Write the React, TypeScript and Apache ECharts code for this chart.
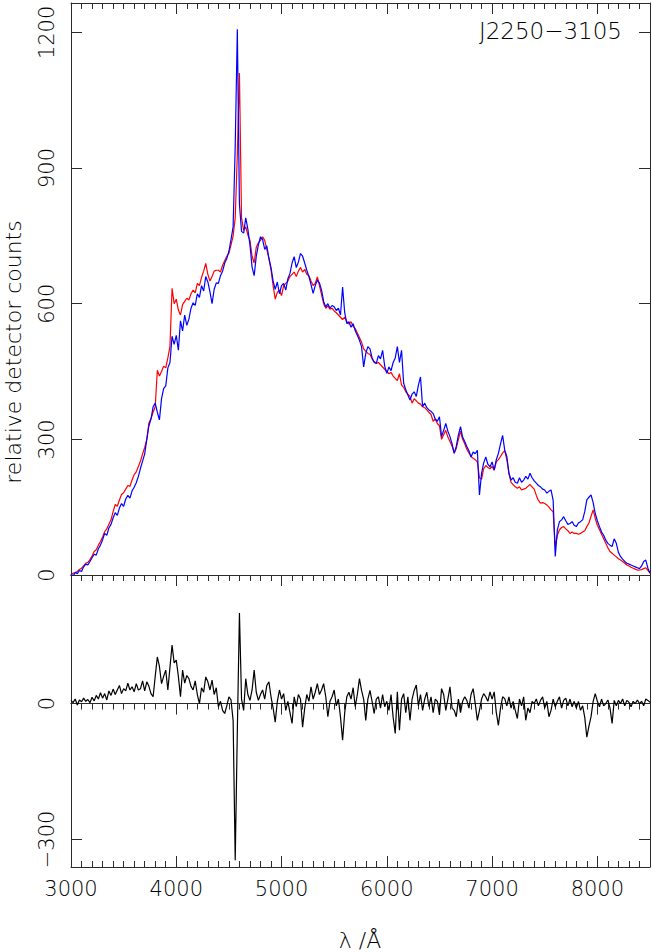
import React, { useEffect, useRef } from "react";
import * as echarts from "echarts";

// Wavelength sampling of the three spectra (Å)
const LAMBDA_START = 3000;
const LAMBDA_STEP = 20;

// Observed spectrum (blue), relative detector counts, 3000..8500 Å every 20 Å
const BLUE = [
  2, -3, 6, 3, 10, 8, 18, 24, 22, 30,
  38, 46, 44, 58, 66, 78, 92, 88, 104, 112,
  126, 138, 132, 148, 158, 152, 168, 176, 170, 186,
  194, 204, 218, 236, 252, 268, 300, 330, 345, 372,
  380, 360, 343, 390, 412, 418, 458, 470, 528, 510,
  530, 497, 562, 540, 575, 552, 566, 590, 602, 596,
  622, 614, 640, 628, 660, 648, 626, 600, 632, 646,
  645, 662, 672, 690, 700, 716, 742, 770, 950, 1207,
  820, 760, 756, 790, 765, 730, 681, 662, 705, 730,
  748, 742, 720, 728, 700, 680, 650, 632, 648, 622,
  640, 645, 630, 655, 667, 690, 704, 680, 692, 711,
  705, 690, 674, 660, 642, 623, 640, 652, 646, 630,
  605, 593, 600, 590, 596, 593, 585, 590, 575, 637,
  580, 556, 560, 548, 556, 540, 530, 519, 505, 460,
  490, 505, 500, 480, 470, 468, 485, 478, 497, 462,
  446, 460, 452, 470, 480, 505, 470, 497, 424, 410,
  398, 387, 400, 405, 395, 420, 438, 372, 380, 370,
  365, 362, 357, 345, 340, 350, 306, 320, 335, 318,
  306, 290, 269, 285, 310, 328, 305, 295, 284, 275,
  261, 272, 268, 276, 177, 225, 248, 261, 245, 239,
  250, 232, 255, 269, 290, 309, 276, 262, 225, 210,
  215, 205, 203, 215, 205, 210, 218, 212, 225, 215,
  208, 203, 198, 195, 190, 188, 181, 185, 188, 165,
  41, 100, 118, 122, 129, 120, 112, 114, 118, 110,
  107, 115, 118, 122, 140, 166, 172, 177, 160, 136,
  120, 107, 95, 88, 77, 70, 66, 63, 80, 70,
  50, 41, 35, 30, 26, 24, 22, 20, 18, 16,
  14, 20, 30, 33, 15, 4,
];

// Template / comparison spectrum (red)
const RED = [
  0, 4, 5, 8, 12, 15, 20, 26, 28, 34,
  42, 52, 56, 66, 74, 84, 96, 102, 112, 122,
  140, 156, 152, 166, 178, 182, 190, 198, 196, 210,
  222, 228, 240, 252, 268, 282, 300, 336, 346, 360,
  372, 453, 440, 450, 462, 458, 480, 505, 634, 600,
  610, 586, 575, 598, 605, 612, 608, 622, 630, 624,
  645, 640, 658, 672, 689, 665, 650, 660, 672, 674,
  674, 670, 685, 695, 705, 712, 730, 750, 790, 930,
  1110, 790, 762, 770, 752, 740, 705, 690, 725, 735,
  740, 748, 740, 720, 700, 675, 640, 610, 625, 630,
  618, 640, 645, 650, 660, 665, 670, 660, 672, 680,
  670, 676, 665, 662, 650, 640, 645, 659, 640, 620,
  600, 590, 595, 588, 590, 584, 580, 575, 570, 565,
  570, 560, 555, 560, 550, 545, 535, 525, 515, 500,
  495, 490, 488, 478, 472, 468, 470, 465, 460, 455,
  450, 445, 448, 440, 435, 430, 445, 420, 415, 405,
  400, 395, 380, 390, 385, 380, 378, 372, 370, 365,
  360, 355, 340, 345, 335, 330, 300, 310, 320, 305,
  295, 285, 270, 280, 300, 318, 300, 290, 278, 270,
  262, 258, 255, 250, 215, 212, 235, 242, 238, 235,
  240, 232, 250, 255, 262, 270, 275, 255, 225, 205,
  200, 195, 192, 195, 188, 190, 192, 196, 200, 195,
  190, 176, 165, 159, 160, 158, 155, 150, 144, 140,
  63, 88, 100, 105, 107, 102, 98, 92, 95, 92,
  92, 90, 92, 95, 98, 107, 115, 130, 144, 125,
  110, 100, 90, 80, 70, 60, 52, 48, 44, 40,
  36, 33, 30, 26, 22, 20, 17, 15, 13, 11,
  11, 12, 14, 16, 10, 4,
];

// Residual spectrum (black, lower panel)
const RESID = [
  7, 2, 10, -3, 8, 4, 12, 5, 9, 2,
  14, 6, 18, 10, 24, 12, 22, 8, 28, 18,
  32, 20, 30, 40, 22, 33, 28, 45, 30, 37,
  26, 44, 30, 33, 50, 28, 48, 38, 22, 15,
  60, 103, 82, 44, 60, 74, 30, 80, 129, 90,
  96, 60, 15, 74, 45, 62, 55, 38, 30, 50,
  20, 0, 35, 25, 59, 48, 30, 52, 20, 35,
  -7, 5, -15, -22, -5, 15, 8, -37, -346, -60,
  200, 10, -15, 55, 20, 7, 30, 74, 25, 7,
  20, 30, 10, 40, 48, 15, -10, -41, 5, 30,
  10, 22, -15, 5, -20, -44, 15, -7, 20, 10,
  -52, -10, 20, 5, 37, 10, 25, 44, 20, 30,
  44, 15, -29, 5, 15, 30, -5, 10, -30, -81,
  -20, 15, 25, 10, 35, -7, 20, 55, 29, 10,
  -37, 10, 29, 5, -22, 10, 15, -10, 20, -7,
  5, -15, 20, -30, -66, 26, -59, 10, 22, -20,
  15, -37, 10, 29, 41, -5, 20, -15, 10, 25,
  -7, 15, -20, 10, 5, -25, 33, 20, -15, 10,
  37, -10, -15, -29, 10, -20, 5, 15, 7, -10,
  20, 33, 0, -37, -15, 10, 22, 15, 5, 26,
  10, 26, -20, -48, -10, 15, 11, -5, 15, -10,
  5, -15, -33, 10, -5, 15, -37, -10, -20, 5,
  0, 10, -5, 7, 15, -10, 5, -29, -15, 10,
  -7, 5, 15, -10, 7, 12, -5, 10, -7, 5,
  -10, 5, -15, -5, -30, -74, -50, -29, 5, 22,
  5, -7, 10, -5, 0, 8, -10, -44, 7, -5,
  7, 0, 10, -5, 7, 3, -7, 5, 0, 8,
  0, 5, -5, 10, 7, 3,
];

const X_MIN = 3000;
const X_MAX = 8500;
const X_MAJOR = [3000, 4000, 5000, 6000, 7000, 8000];
const X_MINOR_STEP = 100;
const TOP_MIN = 0;
const TOP_MAX = 1265;
const TOP_TICKS = [0, 300, 600, 900, 1200];
const BOT_MIN = -361;
const BOT_MAX = 284;
const BOT_TICKS = [-300, 0];

const OBJECT_NAME = "J2250\u22123105";
const Y_NAME = "relative detector counts";
const X_NAME = "\u03bb /\u00c5";

const FONT = "'DejaVu Sans', sans-serif";
const FW = 200;
const AX = "#2b2b2b";
const TXT = "#000000";

function pairs(arr: number[]) {
  return arr.map((v, i) => [LAMBDA_START + i * LAMBDA_STEP, v]);
}

export default function App() {
  const ref = useRef<HTMLDivElement>(null);
  useEffect(() => {
    document.body.style.margin = "0";
    if (!ref.current) return;
    const chart = echarts.init(ref.current, undefined, { renderer: "svg" });

    const xMinor: number[] = [];
    for (let v = X_MIN; v <= X_MAX; v += X_MINOR_STEP) xMinor.push(v);

    const TOP_RECT = { left: 71, top: 3, width: 579, height: 572 };
    const BOT_RECT = { left: 71, top: 575, width: 579, height: 292 };

    const line = { show: true, onZero: false, lineStyle: { color: AX, width: 1 } };
    const noLine = { show: false, onZero: false };
    const minorTick = { show: true, inside: true, length: 6, customValues: xMinor, lineStyle: { color: AX, width: 1 } };
    const majorTick = { show: true, inside: true, length: 11, customValues: X_MAJOR, lineStyle: { color: AX, width: 1 } };

    const xBase = (gridIndex: number, position: string, axisLine: any, axisTick: any, axisLabel: any = { show: false }) => ({
      type: "value",
      gridIndex,
      position,
      min: X_MIN,
      max: X_MAX,
      splitLine: { show: false },
      axisLine,
      axisTick,
      axisLabel,
    });

    const yTick = (vals: number[]) => ({ show: true, inside: true, length: 11, customValues: vals, lineStyle: { color: AX, width: 1 } });
    const yLabel = (vals: number[]) => ({
      show: true,
      customValues: vals,
      rotate: 90,
      margin: 14,
      fontSize: 21,
      fontFamily: FONT,
      fontWeight: FW,
      color: TXT,
      formatter: (v: number) => String(v).replace("-", "\u2212"),
    });
    const yHidden = (gridIndex: number, min: number, max: number) => ({
      type: "value",
      gridIndex,
      min,
      max,
      show: false,
      splitLine: { show: false },
    });

    const option: any = {
      animation: false,
      grid: [TOP_RECT, TOP_RECT, BOT_RECT, BOT_RECT, BOT_RECT, BOT_RECT],
      xAxis: [
        xBase(0, "bottom", line, { show: false }),
        xBase(0, "top", line, minorTick),
        xBase(1, "top", noLine, majorTick),
        xBase(2, "bottom", line, minorTick, {
          show: true,
          customValues: X_MAJOR,
          margin: 11,
          fontSize: 21,
          fontFamily: FONT,
          fontWeight: FW,
          color: TXT,
          formatter: (v: number) => String(v),
        }),
        xBase(2, "top", line, minorTick),
        xBase(3, "bottom", noLine, majorTick),
        xBase(3, "top", noLine, majorTick),
        xBase(4, "top", { show: true, onZero: true, lineStyle: { color: AX, width: 1 } }, minorTick),
        xBase(5, "top", { show: true, onZero: true, lineStyle: { color: AX, width: 1 } }, majorTick),
      ],
      yAxis: [
        {
          type: "value", gridIndex: 0, position: "left", min: TOP_MIN, max: TOP_MAX,
          splitLine: { show: false }, axisLine: line, axisTick: yTick(TOP_TICKS), axisLabel: yLabel(TOP_TICKS),
        },
        {
          type: "value", gridIndex: 0, position: "right", min: TOP_MIN, max: TOP_MAX,
          splitLine: { show: false }, axisLine: line, axisTick: yTick(TOP_TICKS), axisLabel: { show: false },
        },
        yHidden(1, TOP_MIN, TOP_MAX),
        {
          type: "value", gridIndex: 2, position: "left", min: BOT_MIN, max: BOT_MAX,
          splitLine: { show: false }, axisLine: line, axisTick: yTick(BOT_TICKS), axisLabel: yLabel(BOT_TICKS),
        },
        {
          type: "value", gridIndex: 2, position: "right", min: BOT_MIN, max: BOT_MAX,
          splitLine: { show: false }, axisLine: line, axisTick: yTick(BOT_TICKS), axisLabel: { show: false },
        },
        yHidden(3, BOT_MIN, BOT_MAX),
        yHidden(4, BOT_MIN, BOT_MAX),
        yHidden(5, BOT_MIN, BOT_MAX),
      ],
      series: [
        {
          name: "template", type: "line", xAxisIndex: 0, yAxisIndex: 0, data: pairs(RED),
          showSymbol: false, symbol: "none", lineStyle: { color: "#ff0000", width: 1.2 }, z: 3,
        },
        {
          name: "observed", type: "line", xAxisIndex: 0, yAxisIndex: 0, data: pairs(BLUE),
          showSymbol: false, symbol: "none", lineStyle: { color: "#0000ff", width: 1.2 }, z: 4,
        },
        {
          name: "residual", type: "line", xAxisIndex: 3, yAxisIndex: 3, data: pairs(RESID),
          showSymbol: false, symbol: "none", lineStyle: { color: "#000000", width: 1.2 }, z: 4,
        },
      ],
      graphic: [
        {
          type: "text", x: 622, y: 31,
          style: { text: OBJECT_NAME, textAlign: "right", textVerticalAlign: "middle", fontSize: 23, fontFamily: FONT, fontWeight: FW, fill: TXT },
        },
        {
          type: "text", x: 13, y: 352, rotation: Math.PI / 2,
          style: { text: Y_NAME, textAlign: "center", textVerticalAlign: "middle", fontSize: 22, fontFamily: FONT, fontWeight: FW, fill: TXT },
        },
        {
          type: "text", x: 360, y: 940,
          style: { text: X_NAME, textAlign: "center", textVerticalAlign: "middle", fontSize: 22, fontFamily: FONT, fontWeight: FW, fill: TXT },
        },
      ],
    };
    chart.setOption(option);
    return () => chart.dispose();
  }, []);
  return <div ref={ref} style={{ width: 652, height: 952 }} />;
}
